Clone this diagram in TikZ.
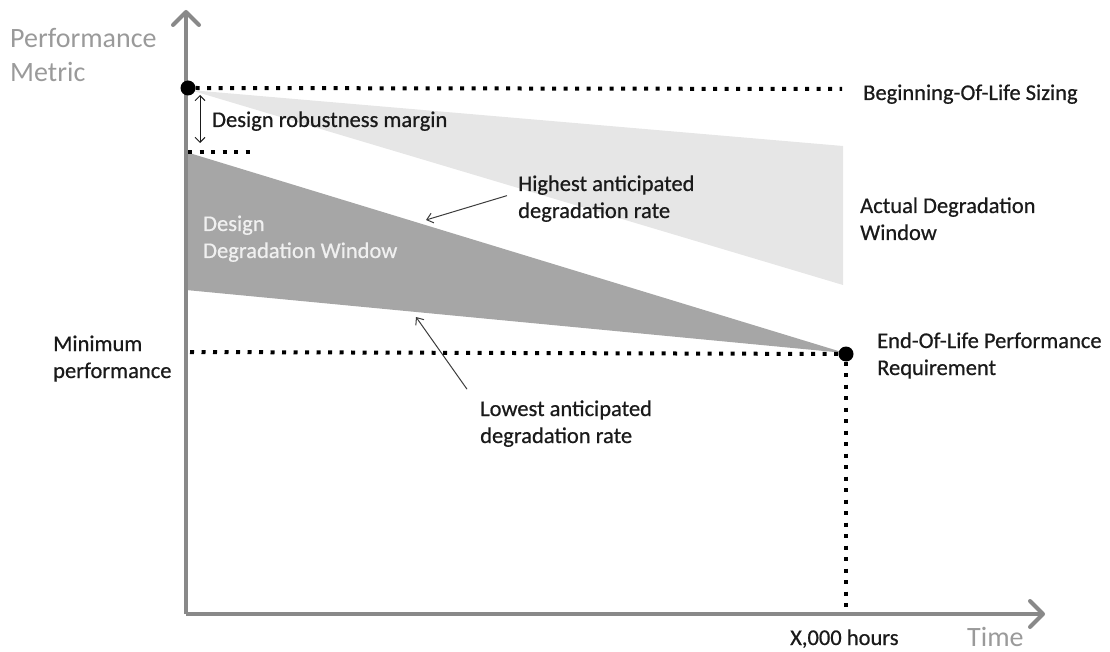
\documentclass[tikz,border=0pt]{standalone}
\usepackage{fontspec}
\setmainfont{Carlito}
\newfontfamily\labelfont{Carlito}[FakeBold=0.6]
\usetikzlibrary{arrows.meta}
\definecolor{axisgray}{HTML}{898989}
\definecolor{labelgray}{HTML}{9A9A9A}
\definecolor{lightwin}{HTML}{E6E6E6}
\definecolor{darkwin}{HTML}{A6A6A6}
\definecolor{ink}{HTML}{1A1A1A}
\begin{document}
\begin{tikzpicture}[x=1pt,y=-1pt,
  axis/.style={draw=axisgray,line width=4pt,
    -{Straight Barb[length=13pt,width=26pt,line width=4pt,round]}},
  dotline/.style={draw=black,line width=4pt,dash pattern=on 4pt off 7.5pt},
  bigdot/.style={circle,fill=black,inner sep=0pt,minimum size=15pt},
  pointer/.style={draw=ink!85,line width=1pt,-{Straight Barb[length=6pt,width=10pt]}},
  lbl/.style={inner sep=0pt,anchor=base west,align=left,text=ink,
    font=\labelfont\fontsize{22.5}{27}\selectfont},
  biglbl/.style={inner sep=0pt,anchor=base west,align=left,text=labelgray,
    font=\fontsize{28}{34}\selectfont}]
\useasboundingbox (0,0) rectangle (1110,652);

% degradation windows
\fill[lightwin] (190,90) -- (843,146) -- (843,285) -- cycle;
\fill[darkwin] (186,152) -- (845,353) -- (186,290) -- cycle;

% axes
\coordinate (origin) at (186,614);
\coordinate (ytip) at (186,10);
\coordinate (xtip) at (1045,614);
\draw[axis] (origin) -- (ytip);
\draw[axis] (origin) -- (xtip);

% key points
\node[bigdot] (bol) at (188,88) {};
\node[bigdot] (eol) at (846,354) {};
\coordinate (bolend) at (842,89);
\coordinate (marginA) at (188,152);
\coordinate (marginB) at (252,152);
\coordinate (minA) at (190,352);
\coordinate (xmark) at (846,614);

% reference lines
\draw[dotline] (bol.east) -- (bolend);
\draw[dotline] (marginA) -- (marginB);
\draw[dotline] (minA) -- (eol.west);
\draw[dotline] (eol.south) -- (xmark);

% robustness margin
\coordinate (mtop) at (200,95);
\coordinate (mbot) at (200,143);
\draw[draw=ink,line width=1pt,{Straight Barb[length=5pt,width=10pt]}-{Straight Barb[length=5pt,width=10pt]}] (mtop) -- (mbot);

% labels (base anchor of a two-line label sits on its second line)
\node[biglbl] (perf) at (10,82) {Performance\\Metric};
\node[biglbl] (time) at (967,646) {Time};
\node[lbl] (margin) at (212,127) {Design robustness margin};
\node[lbl] (bolsz) at (863,100) {Beginning-Of-Life Sizing};
\node[lbl] (actual) at (860,240) {Actual Degradation\\Window};
\node[lbl] (highest) at (518,218) {Highest anticipated\\degradation rate};
\node[lbl,text=white!94!black] (design) at (203,258) {Design\\Degradation Window};
\node[lbl] (minperf) at (53,378) {Minimum\\performance};
\node[lbl] (eolreq) at (877,375) {End-Of-Life Performance\\Requirement};
\node[lbl] (lowest) at (480,443) {Lowest anticipated\\degradation rate};
\node[lbl] (hours) at (790,645) {X,000 hours};

% pointers to the window edges
\coordinate (hiEdge) at (426,220);
\coordinate (loEdge) at (416,317);
\draw[pointer] ([xshift=-11pt,yshift=3pt]highest.west) -- (hiEdge);
\draw[pointer] ([xshift=-13pt,yshift=11pt]lowest.north west) -- (loEdge);
\end{tikzpicture}
\end{document}
